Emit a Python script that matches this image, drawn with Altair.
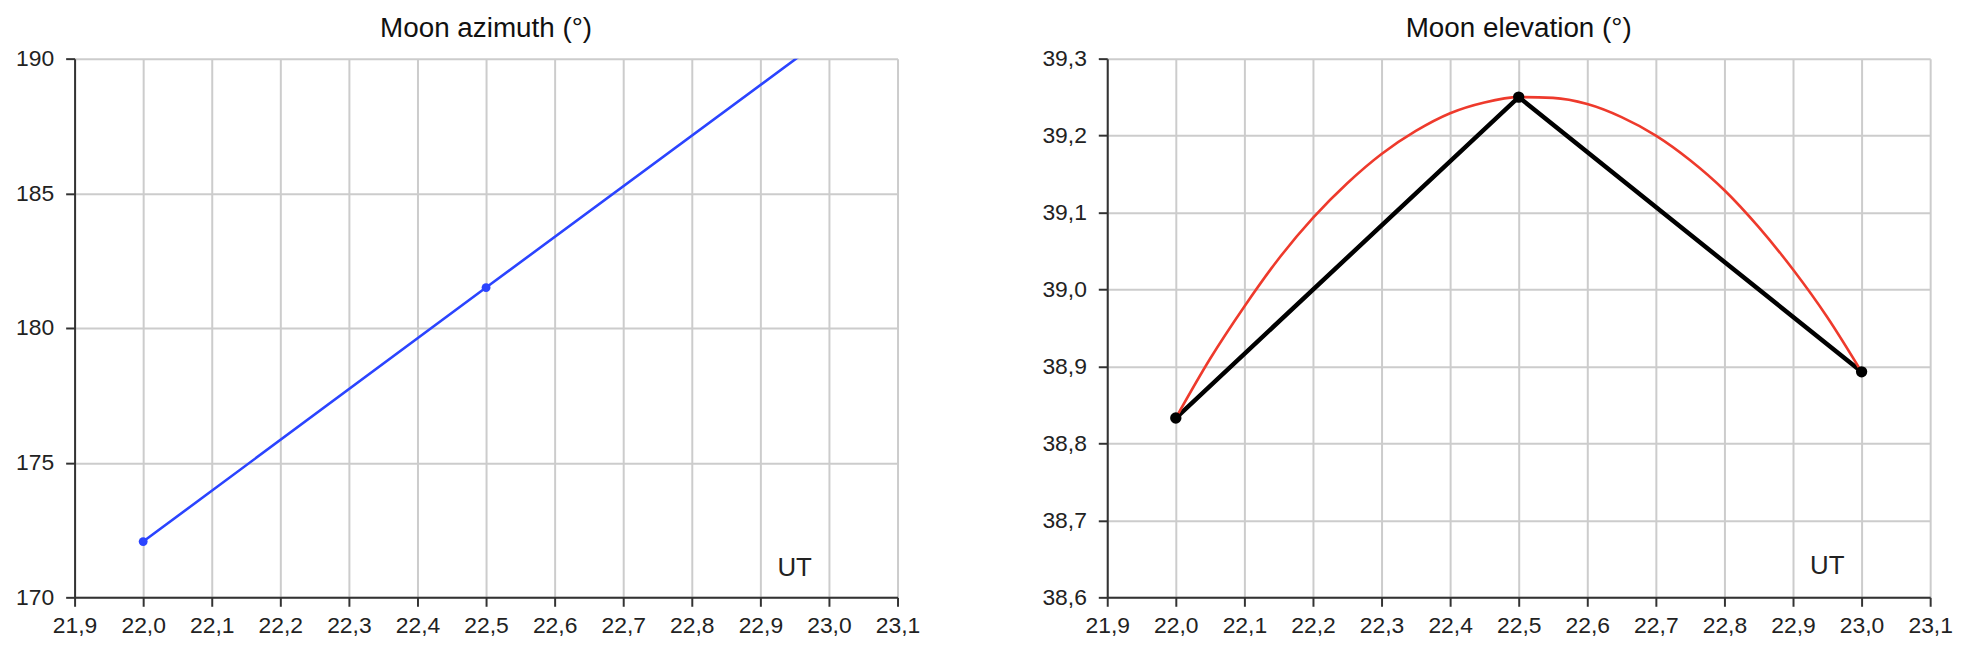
import altair as alt
import pandas as pd

# ---- data ----
ut = [22.0, 22.5, 23.0]
azimuth = [172.07, 181.5, 190.9]
elevation = [38.833, 39.25, 38.893]

# red fitted curve
fit_ut = [22.0, 22.05, 22.1, 22.15, 22.2, 22.25, 22.3, 22.35, 22.4, 22.45, 22.5,
          22.55, 22.6, 22.65, 22.7, 22.75, 22.8, 22.85, 22.9, 22.95, 23.0]
fit_elev = [38.833, 38.910, 38.978, 39.040, 39.093, 39.138, 39.176, 39.206, 39.229, 39.243, 39.250,
            39.249, 39.241, 39.224, 39.200, 39.168, 39.129, 39.081, 39.026, 38.964, 38.893]

x_ticks = [21.9, 22.0, 22.1, 22.2, 22.3, 22.4, 22.5, 22.6, 22.7, 22.8, 22.9, 23.0, 23.1]
az_ticks = [170, 175, 180, 185, 190]
el_ticks = [38.6, 38.7, 38.8, 38.9, 39.0, 39.1, 39.2, 39.3]

ut_label = ["UT"]
ut_label_x = [22.95]
ut_label_az = [171.1]
ut_label_el = [38.64]

titles = ["Moon azimuth (°)", "Moon elevation (°)"]

# ---- tables ----
obs = pd.DataFrame({"ut": ut, "az": azimuth, "el": elevation})
fit = pd.DataFrame({"ut": fit_ut, "el": fit_elev})
lab = pd.DataFrame({"t": ut_label, "ut": ut_label_x, "az": ut_label_az, "el": ut_label_el})

FONT = "Liberation Sans"
comma = "replace(format(datum.value, '.1f'), '.', ',')"

x_enc = alt.X("ut:Q", scale=alt.Scale(domain=[21.9, 23.1], nice=False, zero=False),
              axis=alt.Axis(values=x_ticks, labelExpr=comma, title=None, labelFlush=False))

W, H = 828, 542

def title(t):
    return alt.TitleParams(t, font=FONT, fontSize=28, fontWeight="normal",
                           color="#111", offset=5, frame="group")

# ---- azimuth panel ----
az_y = alt.Y("az:Q", scale=alt.Scale(domain=[170, 190], nice=False, zero=False),
             axis=alt.Axis(values=az_ticks, format="d", title=None, minExtent=62, labelFlush=False))

az_line = alt.Chart(obs).mark_line(color="#2b44ff", strokeWidth=2.6, clip=True).encode(x=x_enc, y=az_y)
az_pts = alt.Chart(obs).mark_circle(color="#2b44ff", size=80, opacity=1, clip=True).encode(x=x_enc, y=az_y)
az_txt = alt.Chart(lab).mark_text(font=FONT, fontSize=26, color="#222").encode(
    x="ut:Q", y="az:Q", text="t:N")

left = alt.layer(az_line, az_pts, az_txt).properties(width=W, height=H, title=title(titles[0]))

# ---- elevation panel ----
el_y = alt.Y("el:Q", scale=alt.Scale(domain=[38.6, 39.3], nice=False, zero=False),
             axis=alt.Axis(values=el_ticks, labelExpr=comma, title=None, minExtent=62, labelFlush=False))

el_fit = alt.Chart(fit).mark_line(color="#ee3a2c", strokeWidth=2.6, interpolate="monotone").encode(x=x_enc, y=el_y)
el_line = alt.Chart(obs).mark_line(color="#000000", strokeWidth=4.5).encode(x=x_enc, y=el_y)
el_pts = alt.Chart(obs).mark_circle(color="#000000", size=130, opacity=1).encode(x=x_enc, y=el_y)
el_txt = alt.Chart(lab).mark_text(font=FONT, fontSize=26, color="#222").encode(
    x="ut:Q", y="el:Q", text="t:N")

right = alt.layer(el_line, el_fit, el_pts, el_txt).properties(width=W, height=H, title=title(titles[1]))

chart = alt.hconcat(left, right, spacing=122).configure_view(
    stroke=None
).configure_axis(
    labelFont=FONT, labelFontSize=23, labelColor="#222",
    domainColor="#333", domainWidth=2,
    tickColor="#333", tickWidth=2, tickSize=9,
    gridColor="#cccccc", gridWidth=2,
).configure_axisY(
    labelPadding=12
).configure_axisX(
    labelPadding=8
)

chart.save("out.html", embed_options={"renderer": "svg", "actions": False})
